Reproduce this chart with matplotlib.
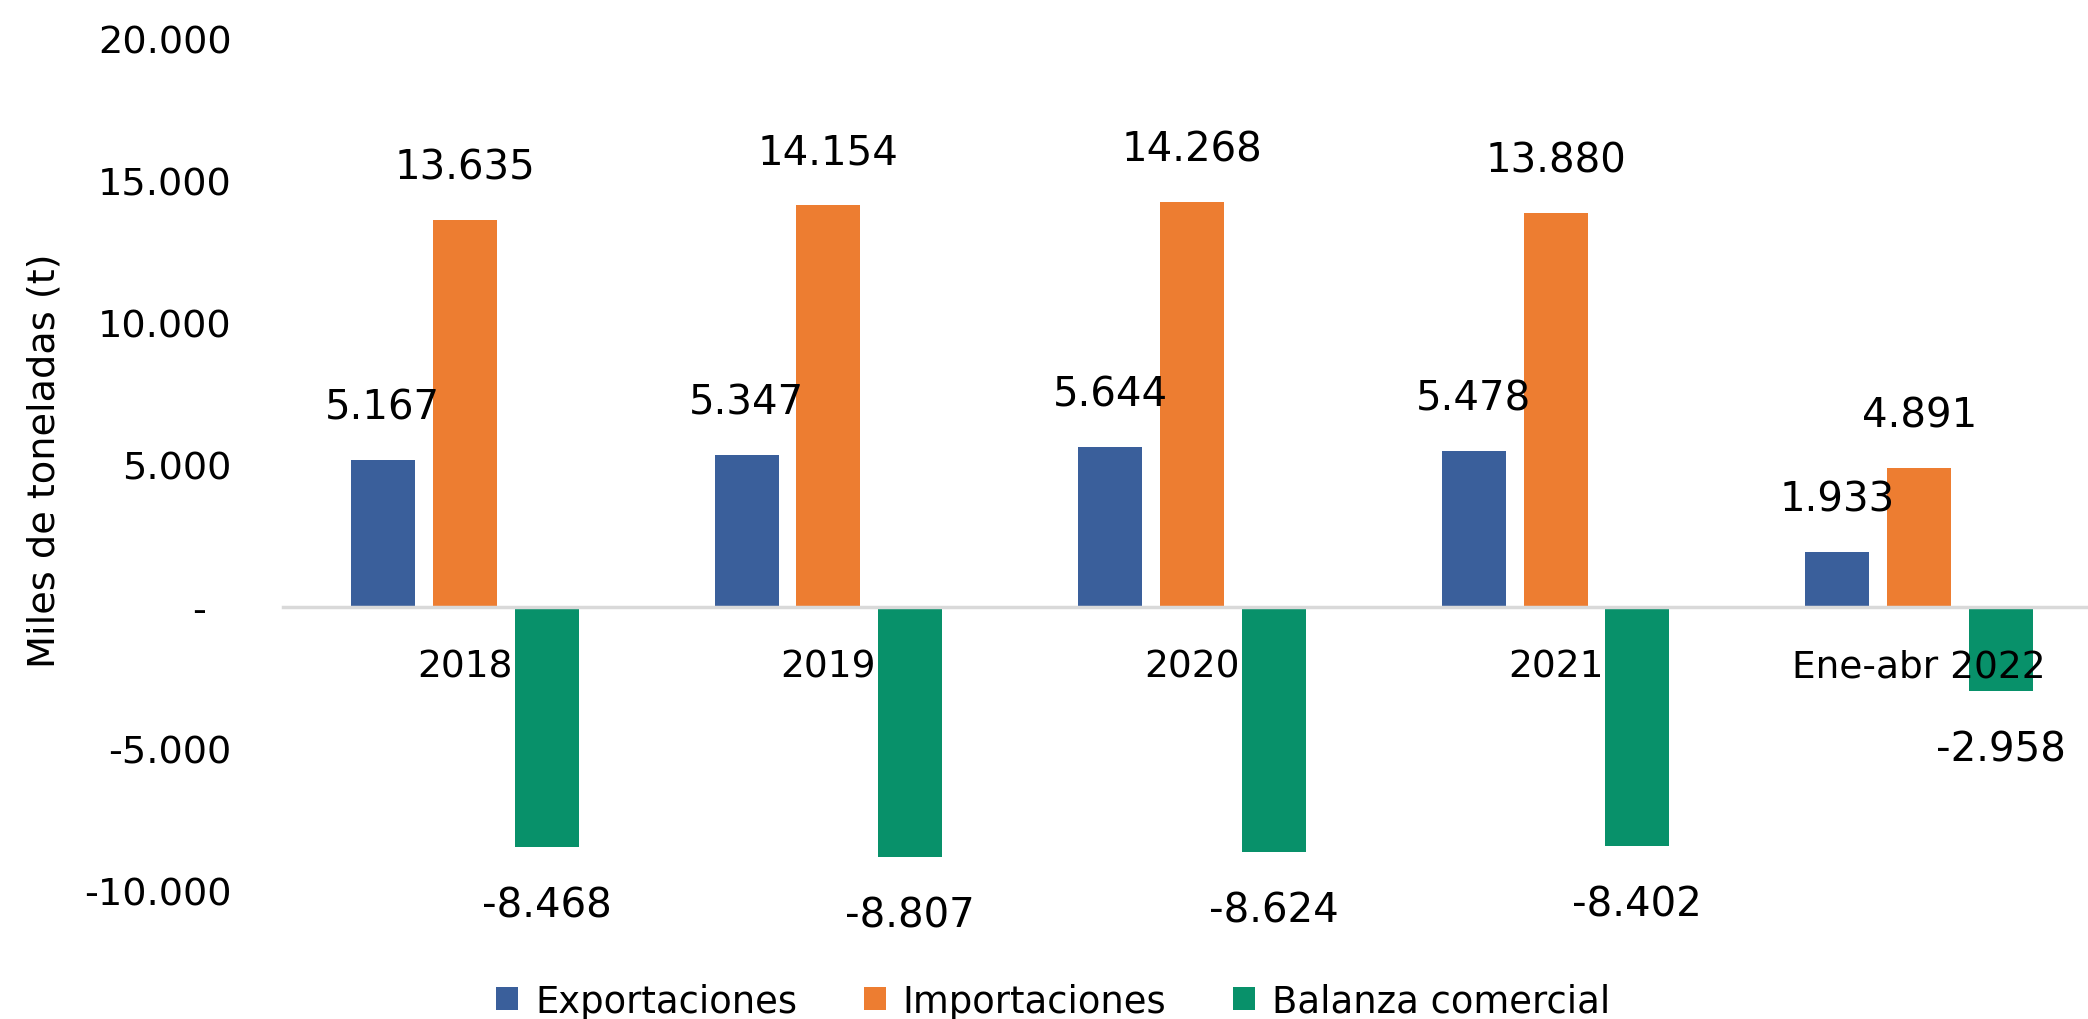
import numpy as np
import matplotlib
matplotlib.use("Agg")
import matplotlib.pyplot as plt
from matplotlib.ticker import FixedLocator, FuncFormatter

# data (miles de toneladas)
categorias = ["2018", "2019", "2020", "2021", "Ene-abr 2022"]
exportaciones = [5167, 5347, 5644, 5478, 1933]
importaciones = [13635, 14154, 14268, 13880, 4891]
balanza = [-8468, -8807, -8624, -8402, -2958]

series = ["Exportaciones", "Importaciones", "Balanza comercial"]
colores = ["#3A5F9B", "#ED7D31", "#08916A"]


def miles(v):
    """Format with a period as thousands separator, '-' for zero"""
    if v == 0:
        return "-  "
    return f"{int(v):,}".replace(",", ".")


fig = plt.figure(figsize=(20.88, 10.2), dpi=100)
ax = fig.add_axes([0.1355, 0.1255, 0.8707, 0.8353])

x = np.arange(len(categorias))
ancho = 0.176
paso = 0.225

barras = []
for k, (vals, nombre, col) in enumerate(zip([exportaciones, importaciones, balanza], series, colores)):
    b = ax.bar(x + (k - 1) * paso, vals, width=ancho, color=col, label=nombre, zorder=1)
    barras.append(b)
    # data labels above / below the bar ends
    for xi, v in zip(x + (k - 1) * paso, vals):
        off = 30 if v >= 0 else -50
        ax.annotate(miles(v), xy=(xi, v), xytext=(0, off), textcoords="offset points",
                    ha="center", va="baseline", fontsize=29, color="black")

ax.set_xlim(-0.5, len(categorias) - 0.5)
ax.set_ylim(-10000, 20000)

ax.yaxis.set_major_locator(FixedLocator(np.arange(-10000, 20001, 5000)))
ax.yaxis.set_major_formatter(FuncFormatter(lambda v, pos: miles(v)))
ax.set_xticks(x)
ax.set_xticklabels(categorias)

# x axis sits on zero, Excel style
for s in ["top", "right", "left"]:
    ax.spines[s].set_visible(False)
ax.spines["bottom"].set_position(("data", 0))
ax.spines["bottom"].set_color("#D9D9D9")
ax.spines["bottom"].set_linewidth(2.5)
ax.spines["bottom"].set_zorder(3)

ax.tick_params(axis="y", length=0, pad=37, labelsize=27.5, colors="black")
ax.tick_params(axis="x", length=0, pad=30, labelsize=27, colors="black")

ax.set_ylabel("Miles de toneladas (t)", fontsize=27.5)
ax.yaxis.set_label_coords(-0.121, 0.506)

fig.legend(handles=barras, labels=series, loc="center left",
           bbox_to_anchor=(0.2375, 0.0176), ncol=3, frameon=False,
           fontsize=26.6, handlelength=0.6, handleheight=0.6,
           handletextpad=0.46, columnspacing=1.8, borderpad=0, borderaxespad=0)

fig.savefig("out.png", dpi=100)
